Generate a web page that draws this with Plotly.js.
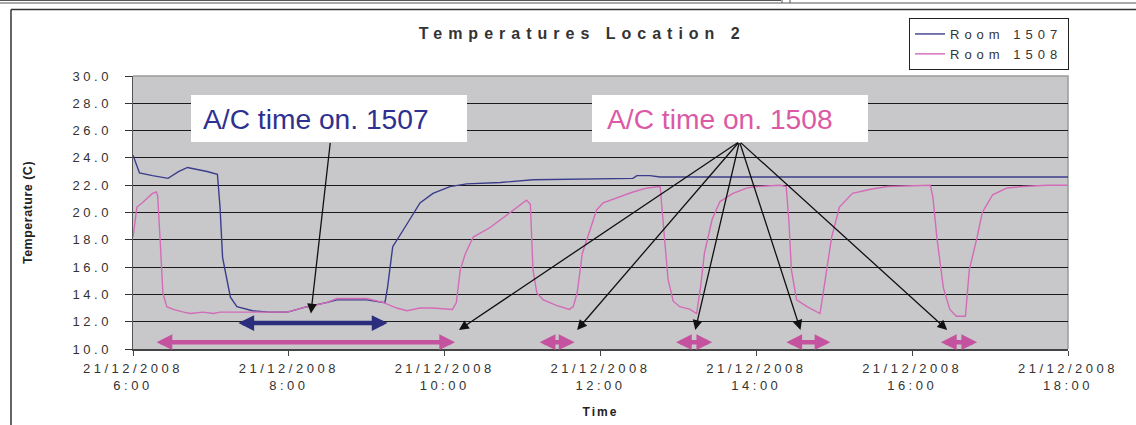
<!DOCTYPE html>
<html>
<head>
<meta charset="utf-8">
<script src="https://cdn.plot.ly/plotly-3.0.1.min.js"></script>
<style>
  html, body { margin: 0; padding: 0; background: #fff; }
  #chart { width: 1136px; height: 425px; }
  .xtick text, .ytick text { letter-spacing: 3.5px; }
  .legendtext { letter-spacing: 5px; }
  .gtitle { letter-spacing: 6px; }
  .xtitle { letter-spacing: 2px; }
  .ytitle { letter-spacing: 0.5px; }
</style>
</head>
<body>
<div id="chart"></div>
<script>
// ---- Data ----
const day = "2008-12-21";

const room1507Times = ["06:00","06:05","06:15","06:27","06:35","06:42","06:57","07:05","07:07","07:09","07:15","07:20","07:32","07:45","07:59","08:14","08:29","08:37","09:00","09:14","09:16","09:20","09:28","09:33","09:41","09:51","10:04","10:17","10:43","11:08","12:25","12:28","12:38","12:46","18:00"];
const room1507Temps = [24.2,22.9,22.7,22.5,23.0,23.3,23.0,22.8,20.4,16.7,13.8,13.1,12.8,12.7,12.7,13.1,13.4,13.6,13.6,13.4,14.5,17.5,18.7,19.5,20.7,21.4,21.9,22.1,22.2,22.4,22.5,22.7,22.7,22.6,22.6];

const room1508Times = ["06:00","06:03","06:07","06:15","06:18","06:19","06:21","06:23","06:26","06:31","06:39","06:44","06:54","07:02","07:07","07:32","07:59","08:14","08:29","08:37","09:00","09:13","09:23","09:31","09:41","09:51","10:06","10:09","10:12","10:16","10:22","10:35","10:50","11:03","11:06","11:08","11:11","11:16","11:26","11:36","11:39","11:42","11:46","11:52","11:57","12:02","12:13","12:25","12:36","12:46","12:47","12:50","12:52","12:56","13:01","13:09","13:14","13:17","13:20","13:26","13:32","13:42","13:53","14:00","14:18","14:23","14:25","14:27","14:31","14:39","14:49","14:51","14:54","14:58","15:04","15:14","15:28","15:41","16:14","16:16","16:19","16:24","16:29","16:34","16:41","16:44","16:50","16:54","17:02","17:13","17:25","17:44","18:00"];
const room1508Temps = [18.2,20.4,20.7,21.4,21.5,21.2,17.8,14.1,13.1,12.9,12.7,12.6,12.7,12.6,12.7,12.7,12.7,13.1,13.4,13.7,13.7,13.4,13.0,12.8,13.0,13.0,12.9,13.4,15.8,17.0,18.2,18.9,20.0,20.9,20.6,15.8,14.1,13.6,13.2,12.9,13.1,14.1,17.0,18.7,20.2,20.7,21.1,21.5,21.8,21.9,20.7,17.0,15.1,13.5,13.1,12.9,12.6,14.5,17.0,19.5,20.8,21.4,21.8,21.9,22.0,21.9,19.5,15.8,13.6,13.1,12.6,13.8,15.8,18.2,20.4,21.4,21.7,21.9,22.0,21.1,18.2,14.5,12.9,12.4,12.4,15.8,18.2,20.0,21.3,21.8,21.9,22.0,22.0];

const xTickTimes = ["06:00","08:00","10:00","12:00","14:00","16:00","18:00"];
const xTickLabels = ["21/12/2008<br>6:00","21/12/2008<br>8:00","21/12/2008<br>10:00","21/12/2008<br>12:00","21/12/2008<br>14:00","21/12/2008<br>16:00","21/12/2008<br>18:00"];

// A/C on periods (start, end) drawn as double arrows
const acPeriod1507 = [["07:20","09:16"]];
const acPeriods1508 = [["06:17","10:08"],["11:12","11:40"],["12:57","13:26"],["14:22","14:57"],["16:21","16:50"]];
const acLevel1507 = 11.9;
const acLevel1508 = 10.5;

// callout arrows: tail (from label box) -> heads
const callout1507Tail = ["08:32", 25.2];
const callout1507Heads = [["08:17", 12.6]];
const callout1508Tail = ["13:47", 25.2];
const callout1508Heads = [["10:11",11.4],["11:42",11.4],["13:13",11.4],["14:34",11.4],["16:27",11.4]];

// ---- Build ----
const T = t => day + " " + t;
const blue = "#3b3d8c";
const pink = "#d36bb8";
const navyArrow = "#2b2e7c";
const pinkArrow = "#c5529f";
const FONT = "Arial, Liberation Sans, sans-serif";

const traces = [
  { x: room1507Times.map(T), y: room1507Temps, type: "scatter", mode: "lines", name: "Room 1507",
    line: { color: blue, width: 1.4 } },
  { x: room1508Times.map(T), y: room1508Temps, type: "scatter", mode: "lines", name: "Room 1508",
    line: { color: pink, width: 1.4 } }
];

const px = v => (v - 133) / 935;
const py = v => (349 - v) / 273;

const ann = [];
function dbl(period, level, color) {
  ann.push({ x: T(period[1]), y: level, ax: T(period[0]), ay: level, xref: "x", yref: "y",
    axref: "x", ayref: "y", text: "", showarrow: true, arrowside: "end+start",
    arrowhead: 2, startarrowhead: 2, arrowsize: 0.7, startarrowsize: 0.7, arrowwidth: 4.5, arrowcolor: color });
}
acPeriod1507.forEach(p => dbl(p, acLevel1507, navyArrow));
acPeriods1508.forEach(p => dbl(p, acLevel1508, pinkArrow));
function callouts(tail, heads) {
  heads.forEach(h => ann.push({ x: T(h[0]), y: h[1], ax: T(tail[0]), ay: tail[1], xref: "x", yref: "y",
    axref: "x", ayref: "y", text: "", showarrow: true, arrowhead: 2, arrowsize: 1.5, arrowwidth: 1.3, arrowcolor: "#111" }));
}
callouts(callout1507Tail, callout1507Heads);
callouts(callout1508Tail, callout1508Heads);

// label texts
ann.push({ xref: "paper", yref: "paper", x: px(201), y: py(118.5), xanchor: "left", yanchor: "middle",
  text: "A/C time on. 1507", showarrow: false,
  font: { family: FONT, size: 28.2, color: "#2e3190" } });
ann.push({ xref: "paper", yref: "paper", x: px(605), y: py(118.5), xanchor: "left", yanchor: "middle",
  text: "A/C time on. 1508", showarrow: false,
  font: { family: FONT, size: 28.2, color: "#db5aa6" } });

const shapes = [
  // white label boxes
  { type: "rect", xref: "paper", yref: "paper", x0: px(191), x1: px(467), y0: py(142), y1: py(95), fillcolor: "#ffffff", line: { width: 0 }, layer: "above" },
  { type: "rect", xref: "paper", yref: "paper", x0: px(592), x1: px(868), y0: py(142), y1: py(95), fillcolor: "#ffffff", line: { width: 0 }, layer: "above" },
  // page frame lines
  { type: "line", xref: "paper", yref: "paper", x0: px(11), x1: px(1136), y0: py(9.5), y1: py(9.5), line: { color: "#333", width: 1.5 } },
  { type: "line", xref: "paper", yref: "paper", x0: px(11), x1: px(11), y0: py(9.5), y1: py(425), line: { color: "#333", width: 1.5 } },
  { type: "line", xref: "paper", yref: "paper", x0: px(0), x1: px(1136), y0: py(3), y1: py(3), line: { color: "#555", width: 1 } },
  { type: "line", xref: "paper", yref: "paper", x0: px(0), x1: px(781), y0: py(0.5), y1: py(0.5), line: { color: "#555", width: 1 } },
  { type: "line", xref: "paper", yref: "paper", x0: px(782), x1: px(782), y0: py(0), y1: py(3), line: { color: "#555", width: 1 } },
  { type: "line", xref: "paper", yref: "paper", x0: px(790), x1: px(790), y0: py(0), y1: py(3), line: { color: "#555", width: 1 } },
  // plot frame top and right (light)
  { type: "path", xref: "paper", yref: "paper", path: "M0,1 L1,1 L1,0", line: { color: "#9a9a9a", width: 1.5 }, layer: "below" }
];

const tickFont = { family: FONT, size: 13, color: "#333" };

const layout = {
  width: 1136, height: 425,
  margin: { l: 133, r: 68, t: 76, b: 76 },
  paper_bgcolor: "#ffffff",
  plot_bgcolor: "#c8c8ca",
  title: { text: "Temperatures Location 2", x: 0.5125, xanchor: "center", y: 0.922, yanchor: "middle",
    font: { family: FONT, size: 16, color: "#333", weight: "bold" } },
  showlegend: true,
  legend: { x: px(909), y: py(18), xanchor: "left", yanchor: "top", bgcolor: "#fff",
    bordercolor: "#222", borderwidth: 1, itemwidth: 30,
    font: { family: FONT, size: 13, color: "#333" }, tracegroupgap: 0 },
  xaxis: {
    type: "date", range: [T("06:00"), T("18:00")],
    tickvals: xTickTimes.map(T), ticktext: xTickLabels,
    showgrid: false, zeroline: false, showline: true, linecolor: "#444", linewidth: 1.5,
    ticks: "outside", ticklen: 5, tickcolor: "#444", tickfont: tickFont, ticklabelstandoff: 2,
    title: { text: "Time", standoff: 15, font: { family: FONT, size: 12, color: "#222", weight: "bold" } }
  },
  yaxis: {
    range: [10, 30], dtick: 2, tickformat: ".1f",
    showgrid: true, gridcolor: "#1a1a1a", gridwidth: 1, zeroline: false,
    showline: true, linecolor: "#555", linewidth: 1.5,
    ticks: "outside", ticklen: 7, tickcolor: "#333", tickfont: tickFont, ticklabelstandoff: 10,
    title: { text: "Temperature (C)", standoff: 37, font: { family: FONT, size: 12.5, color: "#222", weight: "bold" } }
  },
  annotations: ann,
  shapes: shapes
};

Plotly.newPlot("chart", traces, layout, { displayModeBar: false, staticPlot: true });
</script>
</body>
</html>
